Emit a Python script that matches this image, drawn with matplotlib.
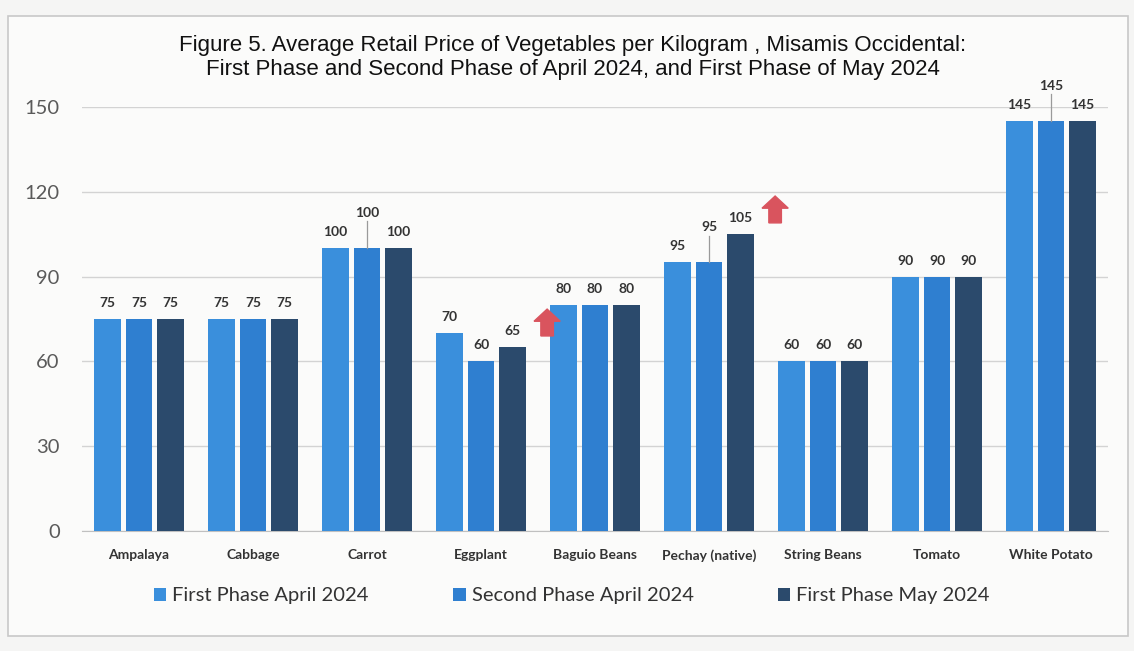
import matplotlib
matplotlib.use("Agg")
import matplotlib.pyplot as plt
from matplotlib.patches import Rectangle
import numpy as np

categories = ["Ampalaya", "Cabbage", "Carrot", "Eggplant", "Baguio Beans",
              "Pechay (native)", "String Beans", "Tomato", "White Potato"]
first_apr = [75, 75, 100, 70, 80, 95, 60, 90, 145]
second_apr = [75, 75, 100, 60, 80, 95, 60, 90, 145]
first_may = [75, 75, 100, 65, 80, 105, 60, 90, 145]
series_names = ["First Phase April 2024", "Second Phase April 2024", "First Phase May 2024"]
yticks = [0, 30, 60, 90, 120, 150]
title_lines = ["Figure 5. Average Retail Price of Vegetables per Kilogram , Misamis Occidental:",
               "First Phase and Second Phase of April 2024, and First Phase of May 2024"]
# categories with an increase marker (arrow)
arrow_cats = ["Eggplant", "Pechay (native)"]
# categories whose middle label is raised with a leader line
leader_cats = ["Carrot", "Pechay (native)", "White Potato"]

colors = ["#3A8FDC", "#2F7FD0", "#2B4A6C"]

W, H = 1134, 651
fig = plt.figure(figsize=(W / 100, H / 100), dpi=100)
fig.patch.set_facecolor("#F5F5F4")
fig.patches.append(Rectangle((8 / W, 1 - 636 / H), (1128 - 8) / W, (636 - 16) / H,
                             transform=fig.transFigure, facecolor="#FBFBFA",
                             edgecolor="#C8C8C8", lw=1.2, zorder=-5))

ax = fig.add_axes([82 / W, 1 - 531 / H, (1108 - 82) / W, (531 - 107) / H], zorder=2)
ax.set_facecolor("none")

x = np.arange(len(categories))
bw = 0.23
offs = [-0.276, 0.0, 0.276]
series = [first_apr, second_apr, first_may]
lab_kw = dict(ha="center", va="bottom", fontsize=10, fontweight="bold",
              color="#333333", family="Lato")
for s, vals in enumerate(series):
    ax.bar(x + offs[s], vals, width=bw, color=colors[s], label=series_names[s], zorder=3)
    for i, v in enumerate(vals):
        if s == 1 and categories[i] in leader_cats:
            ax.annotate(str(v), (x[i] + offs[s], v), xytext=(0, 29), textcoords="offset pixels",
                        **lab_kw)
            ax.plot([x[i] + offs[s]] * 2, [v, v + 9.5], color="#9A9A9A", lw=0.9, zorder=4,
                    clip_on=False)
        else:
            ax.annotate(str(v), (x[i] + offs[s], v), xytext=(0, 10), textcoords="offset pixels",
                        **lab_kw)

# increase arrows
for name in arrow_cats:
    i = categories.index(name)
    base = max(first_may[i], second_apr[i]) + 4
    ax.arrow(x[i] + 0.58, base, 0, 9.5, width=0.11, head_width=0.23, head_length=4.3,
             length_includes_head=True, color="#D9545E", zorder=5, clip_on=False)

ax.set_xlim(-0.5, len(categories) - 0.5)
ax.set_ylim(0, 150)
ax.set_yticks(yticks)
ax.set_xticks(x)
ax.set_xticklabels(categories, fontsize=10, fontweight="bold", color="#333333", family="Lato")
for lab in ax.get_yticklabels():
    lab.set_family("Lato")
ax.tick_params(axis="y", length=0, pad=16, labelsize=14.5, labelcolor="#5A5A5A")
ax.tick_params(axis="x", length=0, pad=13)
ax.grid(axis="y", color="#D3D3D3", lw=1, zorder=0)
for sp in ["top", "right", "left"]:
    ax.spines[sp].set_visible(False)
ax.spines["bottom"].set_color("#C0C0C0")

for k, (line, yy) in enumerate(zip(title_lines, [45, 70])):
    fig.text(573 / W, 1 - yy / H, line, ha="center", va="center", fontsize=16,
             family="Liberation Sans", color="#111111")

leg = fig.legend(loc="center", bbox_to_anchor=(572 / W, 1 - 596 / H), ncol=3, frameon=False,
                 prop={"family": "Lato", "size": 14.5}, handlelength=0.6, handleheight=0.6,
                 handletextpad=0.3, columnspacing=4.2, labelcolor="#333333")

fig.savefig("out.png", dpi=100, facecolor=fig.get_facecolor())
